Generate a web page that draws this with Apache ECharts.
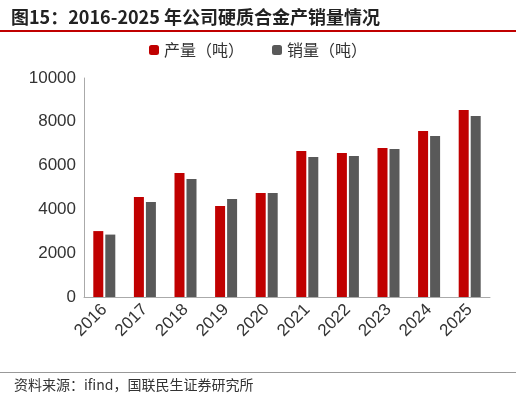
<!DOCTYPE html>
<html><head><meta charset="utf-8">
<script src="https://cdn.jsdelivr.net/npm/echarts@6/dist/echarts.min.js"></script>
<style>html,body{margin:0;padding:0;background:#fff}#c{width:516px;height:401px}</style>
</head><body><div id="c"></div>
<script>
const years=['2016','2017','2018','2019','2020','2021','2022','2023','2024','2025'];
const production=[3010,4570,5660,4160,4750,6670,6580,6800,7580,8540];
const sales=[2850,4340,5390,4480,4750,6390,6440,6760,7350,8270];
const chart=echarts.init(document.getElementById('c'));
chart.setOption({
  animation:false,
  title:{text:'图15：2016-2025 年公司硬质合金产销量情况',left:6,top:3,textStyle:{fontSize:18,fontWeight:'bold',color:'#222',fontFamily:'Noto Sans CJK SC'}},
  legend:{top:37,left:'center',itemWidth:10,itemHeight:10,itemGap:28,textStyle:{fontSize:16,color:'#333',fontFamily:'Noto Sans CJK SC'},data:['产量（吨）','销量（吨）']},
  grid:{left:84,right:26,top:78,bottom:104},
  xAxis:{type:'category',data:years,axisTick:{show:false},axisLine:{lineStyle:{color:'#aaa'}},axisLabel:{rotate:45,fontSize:17,color:'#333',margin:10}},
  yAxis:{type:'value',min:0,max:10000,interval:2000,splitLine:{show:false},axisLine:{show:true,lineStyle:{color:'#aaa'}},axisLabel:{fontSize:17,color:'#333',formatter:v=>String(v)}},
  series:[
    {name:'产量（吨）',type:'bar',data:production,barWidth:10,barGap:'20%',itemStyle:{color:'#c00000'}},
    {name:'销量（吨）',type:'bar',data:sales,barWidth:10,itemStyle:{color:'#595959'}}
  ],
  graphic:[
    {type:'rect',shape:{x:0,y:30,width:516,height:2},style:{fill:'#c00000'}},
    {type:'rect',shape:{x:0,y:372,width:516,height:1},style:{fill:'#999'}},
    {type:'text',left:14,top:378,style:{text:'资料来源：ifind，国联民生证券研究所',fontSize:14,fill:'#333',fontFamily:'Noto Sans CJK SC'}}
  ]
});
</script></body></html>
